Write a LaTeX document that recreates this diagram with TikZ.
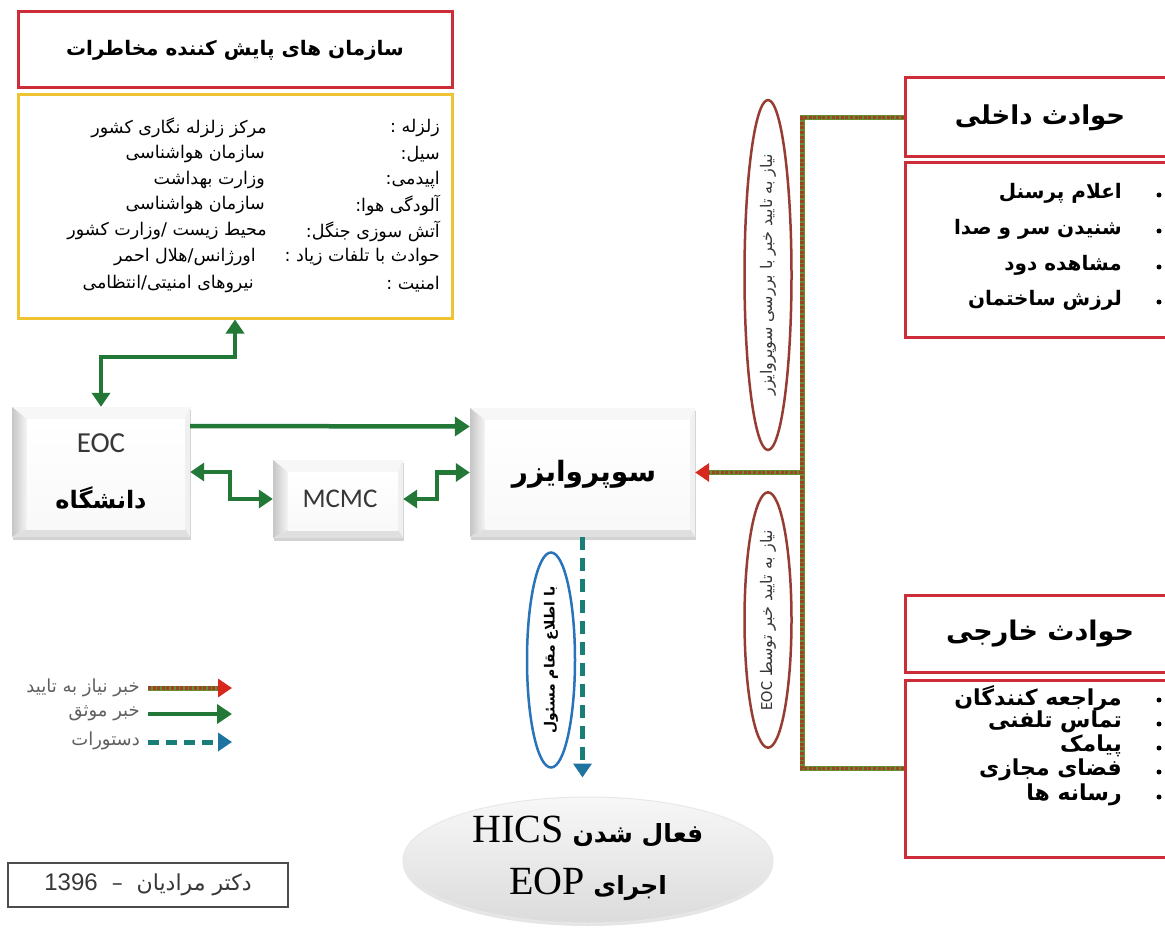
\documentclass[tikz,border=0pt]{standalone}
\usepackage{fontspec}
\usetikzlibrary{arrows.meta,shapes.geometric,shadows,calc}
\TeXXeTstate=1
\newfontfamily\pfont[Script=Arabic]{DejaVu Sans}
\newfontfamily\lsans{Liberation Sans}
\newfontfamily\lserif{Liberation Serif}
\newfontfamily\calib{Carlito}
\newcommand{\fsz}[1]{\fontsize{#1}{#1}\selectfont}
\definecolor{boxred}{RGB}{205,45,55}
\definecolor{boxgold}{RGB}{240,195,50}
\definecolor{arrgreen}{RGB}{35,120,55}
\definecolor{dotgreen}{RGB}{105,140,50}
\definecolor{dotbrown}{RGB}{155,70,35}
\definecolor{tipred}{RGB}{215,40,30}
\definecolor{dteal}{RGB}{25,125,120}
\definecolor{tipblue}{RGB}{30,115,160}
\definecolor{ovalbrown}{RGB}{150,60,50}
\definecolor{ovalblue}{RGB}{40,115,185}
\definecolor{legtext}{RGB}{95,95,95}
\definecolor{darktext}{RGB}{55,55,55}
\begin{document}
\begin{tikzpicture}[x=1pt,y=-1pt,
  redbox/.style={draw=boxred, line width=3pt, fill=white, inner sep=0pt},
  goldbox/.style={draw=boxgold, line width=3pt, fill=white, inner sep=0pt},
  gtext/.style={inner sep=0pt, font=\pfont\fsz{17.5}},
  itemtext/.style={inner sep=0pt, anchor=east, font=\pfont\bfseries\fsz{20}},
  extitem/.style={inner sep=0pt, anchor=east, font=\pfont\bfseries\fsz{22}},
  bul/.style={circle, fill=black, inner sep=0pt, minimum size=5pt},
  bevel/.style={rectangle, inner sep=0pt, fill=white,
    drop shadow={opacity=0.35, shadow xshift=0.5pt, shadow yshift=-2.5pt},
    path picture={
      \coordinate (bNW) at (path picture bounding box.north west);
      \coordinate (bNE) at (path picture bounding box.north east);
      \coordinate (bSW) at (path picture bounding box.south west);
      \coordinate (bSE) at (path picture bounding box.south east);
      \coordinate (iNW) at ([shift={(15pt,-12pt)}]bNW);
      \coordinate (iNE) at ([shift={(-5pt,-12pt)}]bNE);
      \coordinate (iSW) at ([shift={(15pt,8pt)}]bSW);
      \coordinate (iSE) at ([shift={(-5pt,8pt)}]bSE);
      \fill[gray!6] (bNW) -- (bNE) -- (iNE) -- (iNW) -- cycle;
      \shade[left color=gray!45, right color=gray!8] (bNW) -- (iNW) -- (iSW) -- (bSW) -- cycle;
      \fill[gray!12] (bNE) -- (iNE) -- (iSE) -- (bSE) -- cycle;
      \fill[gray!25] (bSW) -- (iSW) -- (iSE) -- (bSE) -- cycle;
      \shade[top color=white, bottom color=gray!5] (iNW) rectangle (iSE);
    }},
  garrow/.style={draw=arrgreen, line width=4.5pt, line join=round,
    -{Triangle[length=15pt,width=19pt]}},
  gboth/.style={draw=arrgreen, line width=4.5pt, line join=miter,
    {Triangle[length=14pt,width=18pt]}-{Triangle[length=14pt,width=18pt]}},
  dotbase/.style={draw=dotgreen, line width=5pt},
  dotover/.style={draw=dotbrown, line width=3.4pt, dash pattern=on 3pt off 1.6pt},
  redtip/.style={-{Triangle[length=14pt,width=18pt,color=tipred,fill=tipred]}},
  dasharrow/.style={draw=dteal, line width=5pt, dash pattern=on 13pt off 8pt,
    -{Triangle[length=14pt,width=18pt,color=tipblue,fill=tipblue]}},
  bigoval/.style={ellipse, draw=ovalbrown, line width=2.5pt, rotate=90, inner sep=0pt, minimum height=47pt},
  legtxt/.style={inner sep=0pt, anchor=east, text=legtext, font=\pfont\fsz{18}}
]
\useasboundingbox (0,0) rectangle (1165,928);
\clip (0,0) rectangle (1165,928);
\fill[white] (0,0) rectangle (1165,928);

% ---------- top-left boxes ----------
\node[redbox, minimum width=434pt, minimum height=76pt] (title) at (235,50)
  {\pfont\bfseries\fsz{20}\beginR سازمان های پایش کننده مخاطرات\endR};
\node[goldbox, minimum width=434pt, minimum height=223pt] (gold) at (235,206.5) {};

\node[gtext, anchor=east] (l1) at (440,128) {\beginR زلزله :\endR};
\node[gtext, anchor=east] (v1) at (267,128) {\beginR مرکز زلزله نگاری کشور\endR};
\node[gtext, anchor=east] (l2) at (440,154) {\beginR سیل:\endR};
\node[gtext, anchor=east] (v2) at (265,154) {\beginR سازمان هواشناسی\endR};
\node[gtext, anchor=east] (l3) at (440,180) {\beginR اپیدمی:\endR};
\node[gtext, anchor=east] (v3) at (265,180) {\beginR وزارت بهداشت\endR};
\node[gtext, anchor=east] (l4) at (440,205) {\beginR آلودگی هوا:\endR};
\node[gtext, anchor=east] (v4) at (265,205) {\beginR سازمان هواشناسی\endR};
\node[gtext, anchor=east] (l5) at (440,231) {\beginR آتش سوزی جنگل:\endR};
\node[gtext, anchor=east] (v5) at (267,231) {\beginR محیط زیست /وزارت کشور\endR};
\node[gtext, anchor=east] (l6) at (440,257) {\beginR حوادث با تلفات زیاد :\endR};
\node[gtext, anchor=east] (v6) at (256,257) {\beginR اورژانس/هلال احمر\endR};
\node[gtext, anchor=east] (l7) at (440,284) {\beginR امنیت :\endR};
\node[gtext, anchor=east] (v7) at (254,284) {\beginR نیروهای امنیتی/انتظامی\endR};

% ---------- bevel boxes ----------
\node[bevel, minimum width=178pt, minimum height=130pt] (eoc) at (101,472) {};
\node[inner sep=0pt, text=darktext, font=\calib\fsz{29}] (eoctxt) at (101,443) {EOC};
\node[inner sep=0pt, font=\pfont\bfseries\fsz{24}] (uni) at (101,498) {\beginR دانشگاه\endR};

\node[bevel, minimum width=130pt, minimum height=78pt] (mcmc) at (338,499) {};
\node[inner sep=0pt, text=darktext, font=\calib\fsz{27}] (mcmctxt) at (340,499) {MCMC};

\node[bevel, minimum width=225pt, minimum height=129pt] (sup) at (582.5,472.5) {};
\node[inner sep=0pt, font=\pfont\bfseries\fsz{28}] (suptxt) at (584,474) {\beginR سوپروایزر\endR};

% ---------- green connectors ----------
\draw[gboth] (eoc.north) -- ++(0,-50) -| (gold.south);
\draw[garrow] ([yshift=46pt]eoc.east) -- ([yshift=46pt]sup.west);
\draw[gboth] (eoc.east) -- ++(40,0) |- (mcmc.west);
\draw[gboth] (mcmc.east) -- ++(34,0) |- (sup.west);

% ---------- right boxes ----------
\node[redbox, minimum width=270pt, minimum height=79pt] (intT) at (1040,117.5)
  {\pfont\bfseries\fsz{26}\beginR حوادث داخلی\endR};
\node[redbox, minimum width=270pt, minimum height=174pt] (intI) at (1040,250) {};
\node[itemtext] (i1) at (1122,193) {\beginR اعلام پرسنل\endR};
\node[itemtext] (i2) at (1122,229) {\beginR شنیدن سر و صدا\endR};
\node[itemtext] (i3) at (1122,265) {\beginR مشاهده دود\endR};
\node[itemtext] (i4) at (1122,300) {\beginR لرزش ساختمان\endR};
\node[bul] (ib1) at (1159,195) {};
\node[bul] (ib2) at (1159,231) {};
\node[bul] (ib3) at (1159,267) {};
\node[bul] (ib4) at (1159,302) {};

\node[redbox, minimum width=270pt, minimum height=77pt] (extT) at (1040,633.5)
  {\pfont\bfseries\fsz{27}\beginR حوادث خارجی\endR};
\node[redbox, minimum width=270pt, minimum height=177pt] (extI) at (1040,768.5) {};
\node[extitem] (e1) at (1122,698) {\beginR مراجعه کنندگان\endR};
\node[extitem] (e2) at (1122,722) {\beginR تماس تلفنی\endR};
\node[extitem] (e3) at (1122,746) {\beginR پیامک\endR};
\node[extitem] (e4) at (1122,770) {\beginR فضای مجازی\endR};
\node[extitem] (e5) at (1122,795) {\beginR رسانه ها\endR};
\node[bul] (eb1) at (1159,700) {};
\node[bul] (eb2) at (1159,724) {};
\node[bul] (eb3) at (1159,748) {};
\node[bul] (eb4) at (1159,772) {};
\node[bul] (eb5) at (1159,797) {};

% ---------- ovals ----------
\node[bigoval, minimum width=350pt] (ov1) at (768,275)
  {\pfont\fsz{16}\color{darktext}\beginR نیاز به تایید خبر با بررسی سوپروایزر\endR};
\node[bigoval, minimum width=255pt] (ov2) at (768,620)
  {\pfont\fsz{16}\color{darktext}\beginR نیاز به تایید خبر توسط \beginL{\calib\fsz{17}EOC}\endL\endR};

% ---------- dotted connectors ----------
\coordinate (jx) at (802,0);
\draw[dotbase] (intT.west) -- (jx |- intT.west) -- (jx |- extI.west) -- (extI.west);
\draw[dotover] (intT.west) -- (jx |- intT.west) -- (jx |- extI.west) -- (extI.west);
\draw[dotbase, shorten >=13pt] (jx |- sup.east) -- (sup.east);
\draw[dotover, redtip] (jx |- sup.east) -- (sup.east);

% ---------- bottom ----------
\node[ellipse, minimum width=370pt, minimum height=126pt, draw=gray!18, line width=1pt,
      top color=gray!6, middle color=white, bottom color=gray!28,
      drop shadow={opacity=0.2, shadow xshift=0pt, shadow yshift=-3pt}] (hics) at (588,860) {};
\node[inner sep=0pt, font=\pfont\bfseries\fsz{25}] (hl1) at (588,832)
  {\beginR فعال شدن {\lserif\mdseries\fsz{40}HICS}\endR};
\node[inner sep=0pt, font=\pfont\bfseries\fsz{25}] (hl2) at (588,884)
  {\beginR اجرای {\lserif\mdseries\fsz{40}EOP}\endR};

\node[ellipse, draw=ovalblue, line width=2.5pt, rotate=90, inner sep=0pt,
      minimum width=215pt, minimum height=48pt] (bov) at (551,660)
  {\pfont\bfseries\fsz{14}\beginR با اطلاع مقام مسئول\endR};
\draw[dasharrow, shorten >=19pt] (sup.south) -- (sup.south |- hics.north);

% ---------- legend ----------
\coordinate (la1) at (148,688); \coordinate (lb1) at (232,688);
\coordinate (la2) at (148,714); \coordinate (lb2) at (232,714);
\coordinate (la3) at (148,742); \coordinate (lb3) at (232,742);
\node[legtxt] (lt1) at (140,688) {\beginR خبر نیاز به تایید\endR};
\node[legtxt] (lt2) at (140,713) {\beginR خبر موثق\endR};
\node[legtxt] (lt3) at (140,741) {\beginR دستورات\endR};
\draw[dotbase, shorten >=13pt] (la1) -- (lb1);
\draw[dotover, redtip] (la1) -- (lb1);
\draw[garrow] (la2) -- (lb2);
\draw[draw=dteal, line width=5pt, dash pattern=on 11pt off 7pt,
      -{Triangle[length=14pt,width=18pt,color=tipblue,fill=tipblue]}] (la3) -- (lb3);

% ---------- footer ----------
\node[draw=gray!60!black, line width=1.2pt, fill=white, minimum width=280pt, minimum height=44pt] (foot) at (148,885)
  {\pfont\fsz{22}\color{darktext}\beginR دکتر مرادیان \ – \ \beginL{\lsans\fsz{24}1396}\endL\endR};
\end{tikzpicture}
\end{document}
